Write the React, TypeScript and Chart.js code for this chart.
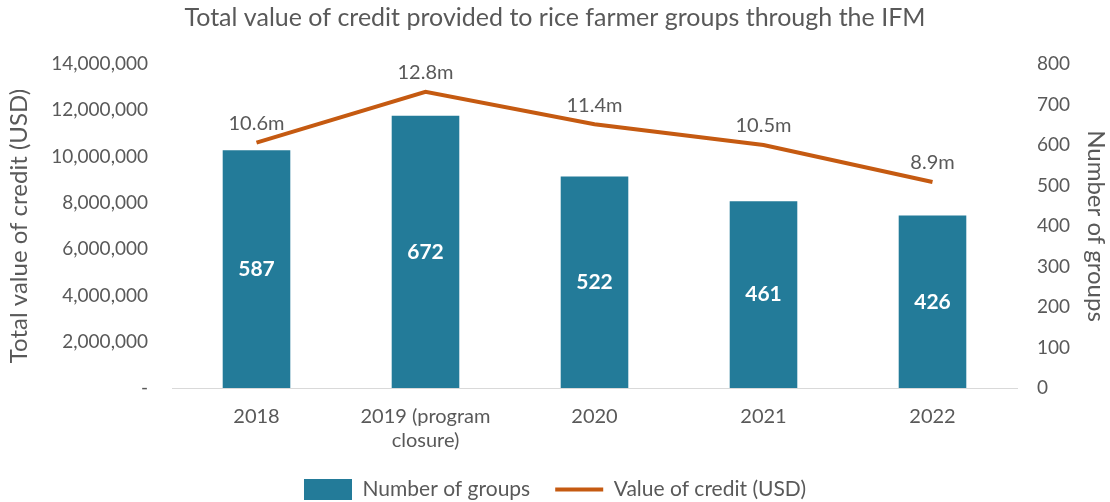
import React, { useEffect, useRef } from "react";
import { Chart, registerables } from "chart.js";

Chart.register(...registerables);

const categories: (string | string[])[] = ["2018", ["2019 (program", "closure)"], "2020", "2021", "2022"];
const groupCounts = [587, 672, 522, 461, 426];
const creditValues = [10.6e6, 12.8e6, 11.4e6, 10.5e6, 8.9e6];
const creditLabels = ["10.6m", "12.8m", "11.4m", "10.5m", "8.9m"];

const FONT = "Lato, 'Open Sans', sans-serif";
const GREY = "#595959";
const BAR_COLOR = "#237B99";
const LINE_COLOR = "#C55A11";

const labelPlugin = {
  id: "valueLabels",
  afterDatasetsDraw(chart: any) {
    const ctx = chart.ctx;
    ctx.save();
    const barMeta = chart.getDatasetMeta(0);
    ctx.font = `bold 21px ${FONT}`;
    ctx.fillStyle = "#ffffff";
    ctx.textAlign = "center";
    ctx.textBaseline = "middle";
    barMeta.data.forEach((el: any, i: number) => {
      ctx.fillText(String(groupCounts[i]), el.x, (el.y + el.base) / 2);
    });
    const lineMeta = chart.getDatasetMeta(1);
    ctx.font = `20px ${FONT}`;
    ctx.fillStyle = GREY;
    ctx.textBaseline = "middle";
    lineMeta.data.forEach((el: any, i: number) => {
      ctx.fillText(creditLabels[i], el.x, el.y - 19);
    });
    ctx.restore();
  },
};

export default function App() {
  const ref = useRef<HTMLCanvasElement>(null);
  useEffect(() => {
    const chart = new Chart(ref.current!, {
      type: "bar",
      data: {
        labels: categories,
        datasets: [
          {
            type: "bar",
            label: "Number of groups",
            data: groupCounts,
            backgroundColor: BAR_COLOR,
            yAxisID: "yR",
            categoryPercentage: 1,
            barPercentage: 0.4,
          },
          {
            type: "line",
            label: "Value of credit (USD)",
            data: creditValues,
            borderColor: LINE_COLOR,
            backgroundColor: LINE_COLOR,
            borderWidth: 4,
            pointRadius: 0,
            tension: 0,
            yAxisID: "yL",
          } as any,
        ],
      },
      options: {
        animation: false,
        responsive: false,
        maintainAspectRatio: false,
        layout: { padding: { left: 0, right: 0, top: 0, bottom: -8 } },
        plugins: {
          title: {
            display: true,
            text: "Total value of credit provided to rice farmer groups through the IFM",
            color: GREY,
            font: { family: FONT, size: 25, weight: "normal" },
            padding: { top: 3, bottom: 31 },
          },
          legend: {
            position: "bottom",
            labels: {
              usePointStyle: true,
              pointStyleWidth: 48,
              boxHeight: 21,
              color: GREY,
              font: { family: FONT, size: 21 },
              padding: 25,
              generateLabels(chart: any) {
                const items = Chart.defaults.plugins.legend.labels.generateLabels(chart);
                return items.map((it: any, i: number) => ({
                  ...it,
                  pointStyle: i === 0 ? "rect" : "line",
                  lineWidth: i === 0 ? 0 : 4,
                  strokeStyle: i === 0 ? BAR_COLOR : LINE_COLOR,
                  fillStyle: i === 0 ? BAR_COLOR : LINE_COLOR,
                }));
              },
            },
          },
          tooltip: { enabled: false },
        },
        scales: {
          x: {
            grid: { display: false },
            border: { color: "#d9d9d9", width: 1 },
            ticks: { color: GREY, font: { family: FONT, size: 20 }, padding: 9, maxRotation: 0 },
            afterFit(scale: any) {
              scale.height = 66;
            },
          },
          yL: {
            position: "left",
            min: 0,
            max: 14000000,
            grid: { display: false },
            border: { display: false },
            ticks: {
              stepSize: 2000000,
              color: GREY,
              font: { family: FONT, size: 19 },
              padding: 16,
              callback: (v: any) => (v === 0 ? "-" : Number(v).toLocaleString("en-US")),
            },
            title: {
              display: true,
              text: "Total value of credit (USD)",
              color: GREY,
              font: { family: FONT, size: 24 },
              padding: { top: 5, bottom: 0 },
            },
            afterFit(scale: any) {
              scale.width = 172;
            },
          },
          yR: {
            position: "right",
            min: 0,
            max: 800,
            grid: { display: false },
            border: { display: false },
            ticks: { stepSize: 100, color: GREY, font: { family: FONT, size: 19 }, padding: 12 },
            title: {
              display: true,
              text: "Number of groups",
              color: GREY,
              font: { family: FONT, size: 24 },
              padding: { top: 0, bottom: 0 },
            },
            afterFit(scale: any) {
              scale.width = 93;
            },
          },
        },
      },
      plugins: [labelPlugin],
    });
    return () => chart.destroy();
  }, []);
  return (
    <div style={{ position: "absolute", left: 0, top: 0, width: 1110, height: 502, background: "#fff" }}>
      <canvas ref={ref} width={1110} height={502} style={{ width: 1110, height: 502 }} />
    </div>
  );
}
